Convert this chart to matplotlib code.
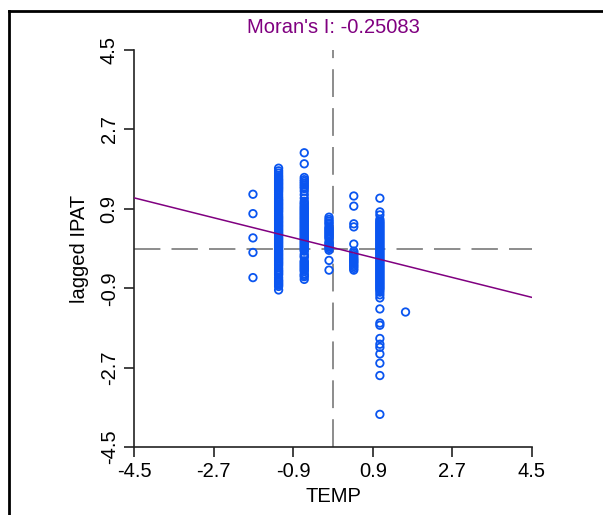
import matplotlib
matplotlib.use("Agg")
import matplotlib.pyplot as plt
from matplotlib.lines import Line2D

plt.rcParams['font.family'] = ['Liberation Sans', 'DejaVu Sans']
plt.rcParams['lines.scale_dashes'] = False

title = "Moran's I: -0.25083"
x_label = "TEMP"
y_label = "lagged IPAT"
ticks = [-4.5, -2.7, -0.9, 0.9, 2.7, 4.5]
tick_labels = ["-4.5", "-2.7", "-0.9", "0.9", "2.7", "4.5"]
slope = -0.25083
intercept = 0.02

group_x = [-1.81, -1.23, -0.65, -0.09, 0.47, 1.06, 1.64]
group_a = [1.23, 0.79, 0.24, -0.09, -0.66]
group_b = [1.82, 1.76, 1.71, 1.66, 1.62, 1.58, 1.55, 1.52, 1.49, 1.46, 1.43, 1.40,
           1.37, 1.34, 1.31, 1.27, 1.22, 1.17, 1.13, 1.10, 1.07, 1.04, 1.01, 0.98,
           0.95, 0.92, 0.89, 0.86, 0.83, 0.79, 0.75, 0.72, 0.69, 0.66, 0.63, 0.60,
           0.57, 0.54, 0.51, 0.48, 0.45, 0.42, 0.39, 0.36, 0.33, 0.30, 0.27, 0.24,
           0.21, 0.18, 0.15, 0.12, 0.09, 0.06, 0.03, 0.00, -0.03, -0.06, -0.09,
           -0.12, -0.15, -0.18, -0.21, -0.24, -0.27, -0.30, -0.33, -0.36, -0.39,
           -0.44, -0.48, -0.51, -0.54, -0.57, -0.60, -0.66, -0.71, -0.74, -0.77,
           -0.80, -0.83, -0.86, -0.94]
group_c = [2.17, 1.92, 1.61, 1.56, 1.52, 1.48, 1.44, 1.40, 1.36, 1.30, 1.22, 1.14,
           1.07, 1.03, 1.00, 0.96, 0.93, 0.90, 0.87, 0.84, 0.81, 0.78, 0.75, 0.72,
           0.69, 0.66, 0.63, 0.60, 0.57, 0.54, 0.51, 0.48, 0.45, 0.42, 0.39, 0.36,
           0.33, 0.30, 0.27, 0.24, 0.21, 0.18, 0.15, 0.12, 0.09, 0.06, 0.03, 0.00,
           -0.03, -0.06, -0.13, -0.17, -0.20, -0.28, -0.31, -0.34, -0.37, -0.40,
           -0.43, -0.46, -0.49, -0.52, -0.58, -0.61, -0.64, -0.70]
group_d = [0.71, 0.66, 0.62, 0.58, 0.55, 0.49, 0.46, 0.43, 0.40, 0.37, 0.34, 0.31,
           0.28, 0.25, 0.22, 0.15, 0.12, 0.09, 0.06, 0.03, 0.00, -0.04, -0.27, -0.49]
group_e = [1.19, 0.96, 0.56, 0.49, 0.10, -0.06, -0.10, -0.14, -0.18, -0.22, -0.25,
           -0.28, -0.31, -0.34, -0.38, -0.41, -0.45, -0.49]
group_f = [1.14, 0.83, 0.76, 0.66, 0.62, 0.59, 0.56, 0.53, 0.50, 0.47, 0.44, 0.41,
           0.38, 0.35, 0.32, 0.29, 0.26, 0.23, 0.20, 0.17, 0.14, 0.11, 0.08, 0.05,
           0.02, -0.01, -0.04, -0.07, -0.10, -0.13, -0.16, -0.19, -0.22, -0.25,
           -0.28, -0.31, -0.34, -0.37, -0.40, -0.43, -0.46, -0.49, -0.52, -0.55,
           -0.58, -0.61, -0.64, -0.67, -0.70, -0.73, -0.76, -0.79, -0.82, -0.85,
           -0.88, -0.91, -0.94, -0.99, -1.05, -1.12,
           -1.37, -1.69, -1.74, -2.04, -2.17, -2.24, -2.39, -2.60, -2.88, -3.76]
group_g = [-1.44]

groups = [group_a, group_b, group_c, group_d, group_e, group_f, group_g]

fig = plt.figure(figsize=(6.03, 5.15), dpi=100)
ax = fig.add_axes([134/603, 1-447/515, (532-134)/603, (447-50)/515])

dash_col = '#8c8c8c'
ax.axhline(0, color=dash_col, lw=1.4, dashes=(19, 8), zorder=1)
ax.axvline(0, color=dash_col, lw=1.4, dashes=(20, 8), zorder=1)

for gx, ys in zip(group_x, groups):
    ax.scatter([gx]*len(ys), ys, s=29, facecolors='none', edgecolors='#0a55f0',
               linewidths=1.3, zorder=3)

ax.plot([-4.5, 4.5], [intercept + slope*(-4.5), intercept + slope*4.5],
        color='#800080', lw=1.1, zorder=4)

ax.set_xlim(-4.5, 4.5)
ax.set_ylim(-4.5, 4.5)
ax.set_xticks(ticks)
ax.set_xticklabels(tick_labels)
ax.set_yticks(ticks)
ax.set_yticklabels(tick_labels, rotation=90, va='center')
for s in ['top', 'right']:
    ax.spines[s].set_visible(False)
for s in ['left', 'bottom']:
    ax.spines[s].set_linewidth(1.2)
    ax.spines[s].set_color('#222222')
ax.tick_params(length=7, width=1.2, labelsize=14.5, color='#222222', pad=4)
ax.set_xlabel(x_label, fontsize=14.5, labelpad=4)
ax.set_ylabel(y_label, fontsize=14.5, labelpad=8)
ax.set_title(title, color='#800080', fontsize=14.5, pad=12)
ax.patch.set_visible(False)

# outer frame (top and left edges visible)
fig.add_artist(Line2D([9/603, 1.0], [1-10.5/515, 1-10.5/515], color='black', lw=2,
                      transform=fig.transFigure))
fig.add_artist(Line2D([9/603, 9/603], [0.0, 1-10.5/515], color='black', lw=2,
                      transform=fig.transFigure))

fig.savefig('out.png', dpi=100)
